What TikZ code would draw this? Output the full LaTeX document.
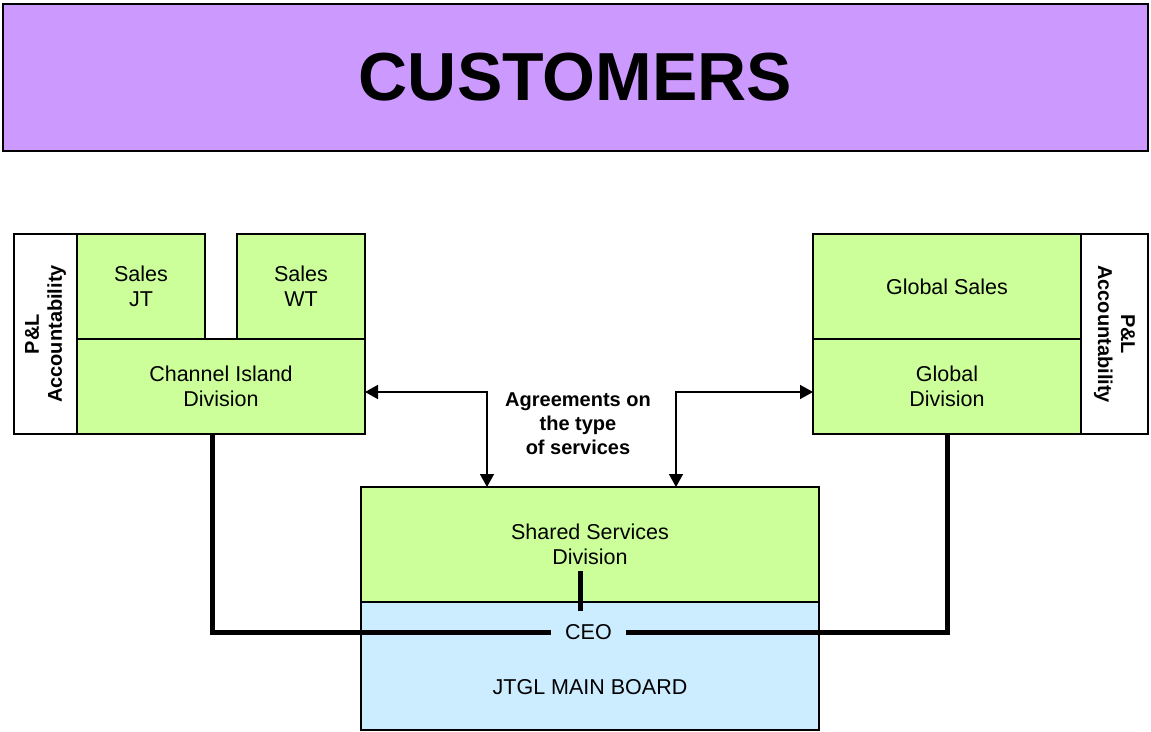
\documentclass[tikz,border=0pt]{standalone}
\usepackage{fontspec}
\setmainfont{Liberation Sans}
\usetikzlibrary{arrows.meta}
\definecolor{custpurple}{HTML}{CC99FF}
\definecolor{divgreen}{HTML}{CCFF99}
\definecolor{boardblue}{HTML}{CCECFF}
\begin{document}
\begin{tikzpicture}[x=1pt,y=-1pt,
    box/.style={draw, line width=1.1pt, outer sep=0pt, inner sep=0pt, align=center,
      font=\fontsize{21.5}{25}\selectfont},
    divbox/.style={box, fill=divgreen},
    plbox/.style={box, fill=white, font=\bfseries\fontsize{20}{23}\selectfont},
    link/.style={line width=1.6pt, {Triangle[length=13pt,width=14pt]}-{Triangle[length=13pt,width=14pt]}},
    board/.style={line width=5pt}]
    \useasboundingbox (0,0) rectangle (1151,731);
    %
    \node[box, fill=custpurple, minimum width=1145pt, minimum height=147pt,
      font=\bfseries\fontsize{68}{68}\selectfont] (cust) at (575.5,77.5) {CUSTOMERS};
    %%%%%%%%%%%%%%%%%%%%%% left division
    \node[plbox, rotate=90, minimum width=200pt, minimum height=63pt] (plleft) at (45.5,334) {P\&L\\Accountability};
    %
    \node[divbox, minimum width=128pt, minimum height=105pt] (salesjt) at (141,286.5) {Sales\\JT};
    %
    \node[divbox, minimum width=128pt, minimum height=105pt] (saleswt) at (301,286.5) {Sales\\WT};
    %
    \node[divbox, minimum width=288pt, minimum height=95pt] (chan) at (221,386.5) {Channel Island\\Division};
    %%%%%%%%%%%%%%%%%%%%%% right division
    \node[divbox, minimum width=268pt, minimum height=105pt] (gsales) at (947,286.5) {Global Sales};
    %
    \node[divbox, minimum width=268pt, minimum height=95pt] (gdiv) at (947,386.5) {Global\\Division};
    %
    \node[plbox, rotate=-90, minimum width=200pt, minimum height=67pt] (plright) at (1114.5,334) {P\&L\\Accountability};
    %%%%%%%%%%%%%%%%%%%%%% shared services and board
    \node[divbox, minimum width=458pt, minimum height=115pt] (ssd) at (590,544.5) {Shared Services\\Division};
    %
    \node[box, fill=boardblue, minimum width=458pt, minimum height=128pt] (board) at (590,666) {};
    %
    \node[font=\fontsize{21.5}{25}\selectfont] (jtgl) at (590,687) {JTGL MAIN BOARD};
    %
    \node[font=\fontsize{21.5}{25}\selectfont, inner xsep=14pt, inner ysep=0pt] (ceo) at (588.5,632) {CEO};
    %
    \node[font=\bfseries\fontsize{20}{24}\selectfont, align=center] (agree) at (578,424) {Agreements on\\the type\\of services};
    %%%%%%%%%%%%%%%%%%%%%% connectors
    \draw[link] ([yshift=-5.5pt]chan.east) -| ([xshift=-103pt]ssd.north);
    %
    \draw[link] ([yshift=-5.5pt]gdiv.west) -| ([xshift=86pt]ssd.north);
    %
    \draw[board] ([xshift=-9pt]chan.south) |- (ceo.west);
    %
    \draw[board] (ceo.east) -| (gdiv.south);
    %
    \coordinate (ssdlink) at (580,571);
    \coordinate (ceolink) at (580,611);
    \draw[board] (ssdlink) -- (ceolink);
\end{tikzpicture}
\end{document}
